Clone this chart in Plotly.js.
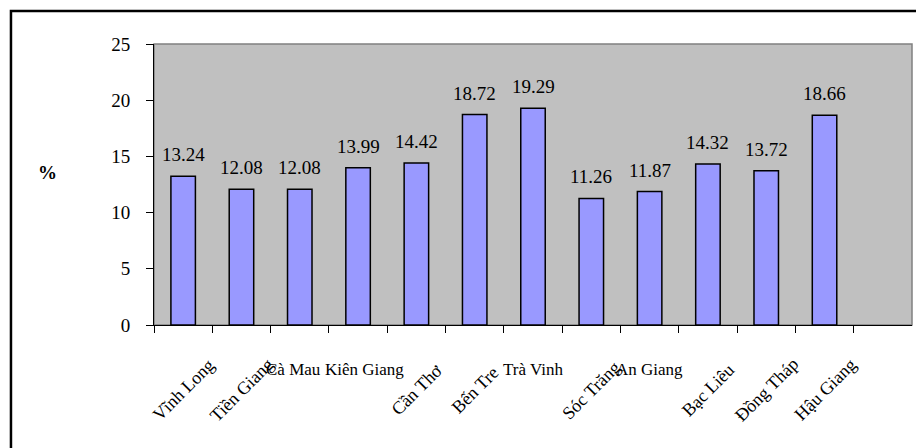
<!DOCTYPE html>
<html>
<head>
<meta charset="utf-8">
<script src="https://cdn.plot.ly/plotly-3.0.1.min.js"></script>
<style>html,body{margin:0;padding:0;background:#fff;}#chart{width:916px;height:448px;}</style>
</head>
<body>
<div id="chart"></div>
<script>
var categories = ["Vĩnh Long", "Tiền Giang", "Cà Mau", "Kiên Giang", "Cần Thơ", "Bến Tre", "Trà Vinh", "Sóc Trăng", "An Giang", "Bạc Liêu", "Đồng Tháp", "Hậu Giang"];
var values = [13.24, 12.08, 12.08, 13.99, 14.42, 18.72, 19.29, 11.26, 11.87, 14.32, 13.72, 18.66];
var yTickVals = [0, 5, 10, 15, 20, 25];
var yUnit = "%";
// label orientation as seen in the reference (true = slanted)
var slanted = [true, true, false, false, true, true, false, true, false, true, true, true];
var labelShift = [0, 0, -6, 6, 0, 0, 0, 0, 0, 0, 0, 0];

var font = "Liberation Serif";

var trace = {
  type: "bar",
  x: categories,
  y: values,
  width: 0.42,
  marker: {color: "#9999ff", line: {color: "#000", width: 1.5}},
  hoverinfo: "x+y"
};

var annotations = [];
categories.forEach(function (c, i) {
  annotations.push({
    x: c, y: values[i], xref: "x", yref: "y",
    text: values[i].toFixed(2), showarrow: false,
    xanchor: "center", yanchor: "bottom", yshift: 9,
    font: {family: font, size: 19, color: "#000"}
  });
  annotations.push({
    x: c, xref: "x", yref: "paper",
    y: slanted[i] ? -0.23 : -0.16,
    xshift: labelShift[i],
    text: c, showarrow: false,
    textangle: slanted[i] ? -45 : 0,
    xanchor: "center", yanchor: "middle",
    font: {family: font, size: slanted[i] ? 18 : 17, color: "#000"}
  });
});
annotations.push({
  x: -0.141, y: 0.541, xref: "paper", yref: "paper",
  text: "<b>" + yUnit + "</b>", showarrow: false,
  xanchor: "center", yanchor: "middle",
  font: {family: font, size: 19, color: "#000"}
});

var layout = {
  width: 916, height: 448,
  margin: {l: 154, r: 4, t: 44, b: 123, pad: 0},
  paper_bgcolor: "#fff",
  plot_bgcolor: "#c0c0c0",
  showlegend: false,
  xaxis: {
    type: "category",
    categoryorder: "array",
    categoryarray: categories,
    range: [-0.5, 12.5],
    showticklabels: false,
    ticks: "outside", ticklen: 7, tickwidth: 1, tickcolor: "#000",
    tickson: "boundaries",
    showline: true, linecolor: "#000", linewidth: 1,
    showgrid: false, zeroline: false, fixedrange: true
  },
  yaxis: {
    range: [0, 25],
    tickvals: yTickVals,
    ticks: "outside", ticklen: 7, tickwidth: 1, tickcolor: "#000",
    ticklabelstandoff: 12,
    showline: true, linecolor: "#000", linewidth: 1,
    showgrid: false, zeroline: false, fixedrange: true,
    tickfont: {family: font, size: 19, color: "#000"}
  },
  annotations: annotations,
  shapes: [
    {type: "rect", xref: "paper", yref: "paper", x0: 0, x1: 1, y0: 0, y1: 1,
     line: {color: "#808080", width: 1.5}, layer: "below"},
    {type: "rect", xref: "paper", yref: "paper", x0: -0.1887, x1: 1.01, y0: -0.46, y1: 1.1174,
     line: {color: "#000", width: 2.5}, layer: "below"}
  ],
  font: {family: font, color: "#000"}
};

Plotly.newPlot("chart", [trace], layout, {displayModeBar: false, staticPlot: true});
</script>
</body>
</html>
